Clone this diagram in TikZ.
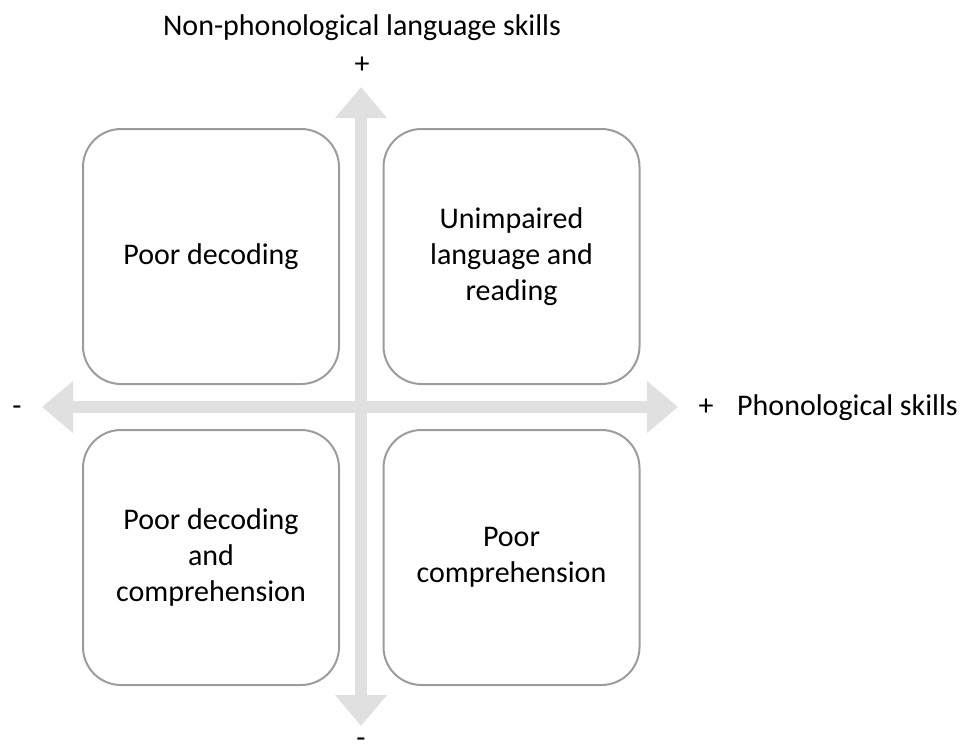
\documentclass[tikz,border=0pt]{standalone}
\usepackage{fontspec}
\setmainfont{Carlito}
\usetikzlibrary{arrows.meta}

\definecolor{axisgray}{HTML}{E0E0E0}
\definecolor{boxgray}{HTML}{9C9C9C}

\begin{document}
\begin{tikzpicture}[x=1pt,y=-1pt,
  quad/.style={draw=boxgray, line width=2pt, rounded corners=38pt,
    minimum width=256pt, minimum height=255pt, inner sep=0pt,
    align=center, font=\fontsize{30pt}{36pt}\selectfont},
  lbl/.style={anchor=base, inner sep=0pt, font=\fontsize{30pt}{36pt}\selectfont},
  axis/.style={draw=axisgray, line width=12pt,
    {Triangle[width=50pt,length=31pt]}-{Triangle[width=50pt,length=31pt]}}]
  \useasboundingbox (0,0) rectangle (961,755);

  % axis end points
  \coordinate (west)  at (42,407);
  \coordinate (east)  at (678,407);
  \coordinate (north) at (361,87);
  \coordinate (south) at (361,726);

  % the two double-headed axes
  \draw[axis] (west) -- (east);
  \draw[axis] (south) -- (north);

  % the four quadrants
  \node[quad] (tl) at (211,256.5) {Poor decoding};
  \node[quad] (tr) at (511.5,256.5) {Unimpaired\\language and\\reading};
  \node[quad] (bl) at (211,557.5) {Poor decoding\\and\\comprehension};
  \node[quad] (br) at (511.5,557.5) {Poor\\comprehension};

  % axis labels
  \node[lbl] (ytitle) at (362,35) {Non-phonological language skills};
  \node[lbl] (yplus)  at (362,73) {+};
  \node[lbl] (yminus) at (361,747) {-};
  \node[lbl] (xminus) at (17,415) {-};
  \node[lbl] (xplus)  at (706,415) {+};
  \node[lbl, anchor=base west] (xtitle) at (737,415) {Phonological skills};
\end{tikzpicture}
\end{document}
